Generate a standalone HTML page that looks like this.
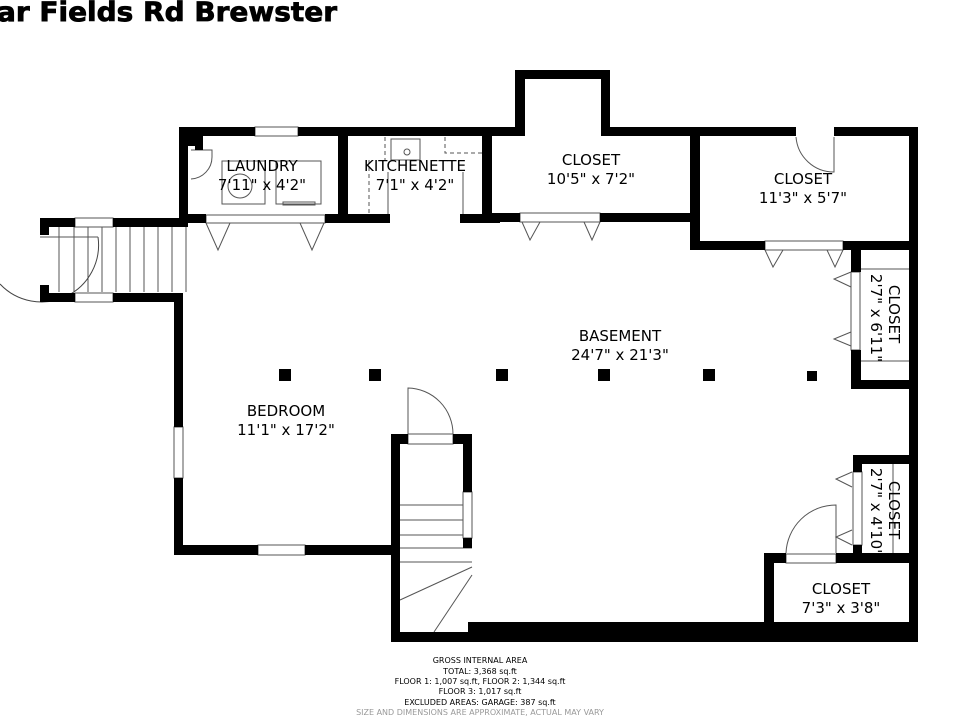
<!DOCTYPE html>
<html><head><meta charset="utf-8"><style>
html,body{margin:0;padding:0;background:#fff;width:960px;height:720px;overflow:hidden}
svg{display:block}
text{font-family:"DejaVu Sans","Liberation Sans",sans-serif;fill:#000}
</style></head><body>
<svg width="960" height="720" viewBox="0 0 960 720" xmlns="http://www.w3.org/2000/svg">
<text x="-3" y="21" font-size="27" textLength="340" lengthAdjust="spacingAndGlyphs" style="font-family:'DejaVu Sans','Liberation Sans',sans-serif;font-weight:900;stroke:#000;stroke-width:0.8">ar Fields Rd Brewster</text>

<g fill="none" stroke="#555" stroke-width="1">
<line x1="59" y1="227" x2="59" y2="292"/><line x1="74" y1="227" x2="74" y2="292"/><line x1="88" y1="227" x2="88" y2="292"/><line x1="102" y1="227" x2="102" y2="292"/><line x1="116" y1="227" x2="116" y2="292"/><line x1="130" y1="227" x2="130" y2="292"/><line x1="144" y1="227" x2="144" y2="292"/><line x1="158" y1="227" x2="158" y2="292"/><line x1="172" y1="227" x2="172" y2="292"/><line x1="186" y1="227" x2="186" y2="292"/>
<path d="M98,237 A57,57 0 0 1 0,284" stroke="#444"/><line x1="40" y1="237" x2="98" y2="237"/>
<line x1="400" y1="505" x2="463" y2="505"/><line x1="400" y1="520" x2="463" y2="520"/><line x1="400" y1="535" x2="472" y2="535"/><line x1="400" y1="548" x2="472" y2="548"/><line x1="400" y1="562" x2="472" y2="562"/>
<line x1="400" y1="600" x2="472" y2="567"/><line x1="434" y1="632" x2="472" y2="575"/>
<path d="M408,434 L408,388 A46,46 0 0 1 453,434"/>
<path d="M834,137 L834,172 A38,38 0 0 1 796,137"/>
<path d="M836,553 L836,505 A50,50 0 0 0 786,553"/>
<path d="M191,150 L212,150 L212,157 A22,22 0 0 1 191,179"/>
<path d="M206,223 L218,250 L230,223 M300,223 L312,250 L324,223"/>
<path d="M522,222 L530,240 L540,222 M584,222 L592,240 L600,222"/>
<path d="M765,250 L773,267 L783,250 M827,250 L835,267 L843,250"/>
<path d="M851,272 L834,279 L851,287 M851,332 L834,339 L851,346"/>
<path d="M852,472 L836,479 L852,487 M852,530 L836,537 L852,545"/>
<rect x="222" y="161" width="43" height="43"/><circle cx="240" cy="186" r="12"/>
<rect x="276" y="161" width="45" height="43"/><rect x="283" y="202" width="32" height="3"/>
<rect x="391" y="139" width="29" height="21"/><circle cx="407" cy="152" r="3"/>
<path d="M385,137 L385,160 M369,160 L369,214 M445,137 L445,153 L482,153" stroke-dasharray="4,3"/>
<line x1="388" y1="172" x2="388" y2="214"/><line x1="463" y1="172" x2="463" y2="214"/>
<line x1="861" y1="269" x2="909" y2="269"/><line x1="861" y1="361" x2="909" y2="361"/>
<line x1="893" y1="464" x2="893" y2="553"/>
</g>

<g fill="#fff" stroke="#555" stroke-width="1">
<rect x="255" y="127" width="43" height="9"/><rect x="75" y="218" width="38" height="9"/><rect x="75" y="293" width="38" height="9"/>
<rect x="174" y="427" width="9" height="51"/><rect x="258" y="545" width="47" height="10"/>
<rect x="206" y="215" width="119" height="8"/><rect x="520" y="213" width="80" height="9"/>
<rect x="765" y="241" width="78" height="9"/><rect x="851" y="272" width="9" height="78"/>
<rect x="853" y="472" width="9" height="73"/><rect x="786" y="554" width="50" height="9"/>
<rect x="463" y="492" width="9" height="46"/><rect x="408" y="434" width="45" height="10"/>
</g>

<g fill="#000">
<rect x="40" y="218" width="35" height="9"/><rect x="113" y="218" width="75" height="9"/>
<rect x="40" y="293" width="35" height="9"/><rect x="113" y="293" width="70" height="9"/>
<rect x="40" y="218" width="9" height="17"/><rect x="40" y="285" width="9" height="17"/>
<rect x="179" y="127" width="9" height="100"/>
<rect x="179" y="127" width="76" height="9"/><rect x="298" y="127" width="227" height="9"/>
<rect x="188" y="136" width="15" height="10"/><rect x="195" y="146" width="8" height="4"/>
<rect x="338" y="127" width="10" height="88"/><rect x="482" y="127" width="10" height="88"/>
<rect x="188" y="214" width="18" height="9"/><rect x="325" y="214" width="65" height="9"/><rect x="460" y="214" width="40" height="9"/>
<rect x="515" y="70" width="10" height="66"/><rect x="515" y="70" width="95" height="9"/><rect x="601" y="70" width="9" height="66"/>
<rect x="601" y="127" width="195" height="9"/><rect x="834" y="127" width="84" height="9"/>
<rect x="490" y="213" width="30" height="9"/><rect x="600" y="213" width="95" height="9"/>
<rect x="690" y="127" width="10" height="123"/>
<rect x="690" y="241" width="75" height="9"/><rect x="843" y="241" width="75" height="9"/>
<rect x="909" y="127" width="9" height="513"/>
<rect x="851" y="250" width="10" height="22"/><rect x="851" y="350" width="10" height="39"/><rect x="851" y="380" width="67" height="9"/>
<rect x="853" y="455" width="65" height="9"/><rect x="853" y="455" width="9" height="17"/><rect x="853" y="545" width="9" height="10"/>
<rect x="764" y="553" width="22" height="10"/><rect x="836" y="553" width="82" height="10"/>
<rect x="764" y="553" width="10" height="87"/>
<rect x="468" y="622" width="450" height="20"/>
<rect x="391" y="434" width="9" height="208"/><rect x="391" y="632" width="80" height="10"/>
<rect x="391" y="434" width="17" height="10"/><rect x="453" y="434" width="19" height="10"/>
<rect x="463" y="434" width="9" height="58"/><rect x="463" y="538" width="9" height="10"/>
<rect x="174" y="293" width="9" height="134"/><rect x="174" y="478" width="9" height="77"/>
<rect x="174" y="545" width="84" height="10"/><rect x="305" y="545" width="95" height="10"/>
<rect x="279" y="369" width="12" height="12"/><rect x="369" y="369" width="12" height="12"/><rect x="496" y="369" width="12" height="12"/>
<rect x="598" y="369" width="12" height="12"/><rect x="703" y="369" width="12" height="12"/><rect x="807" y="371" width="10" height="10"/>
</g>

<g font-size="15" text-anchor="middle">
<text x="262" y="171">LAUNDRY</text><text x="262" y="190">7'11" x 4'2"</text>
<text x="415" y="171">KITCHENETTE</text><text x="415" y="190">7'1" x 4'2"</text>
<text x="591" y="165">CLOSET</text><text x="591" y="184">10'5" x 7'2"</text>
<text x="803" y="184">CLOSET</text><text x="803" y="203">11'3" x 5'7"</text>
<text x="620" y="341">BASEMENT</text><text x="620" y="360">24'7" x 21'3"</text>
<text x="286" y="416">BEDROOM</text><text x="286" y="435">11'1" x 17'2"</text>
<text x="841" y="594">CLOSET</text><text x="841" y="613">7'3" x 3'8"</text>
<text transform="translate(889,314) rotate(90)">CLOSET</text>
<text transform="translate(871,318) rotate(90)">2'7" x 6'11"</text>
<text transform="translate(889,510) rotate(90)">CLOSET</text>
<text transform="translate(871,512) rotate(90)">2'7" x 4'10"</text>
</g>

<g font-size="8" text-anchor="middle" style="font-family:'Liberation Sans',sans-serif">
<text x="480" y="663">GROSS INTERNAL AREA</text>
<text x="480" y="674">TOTAL: 3,368 sq.ft</text>
<text x="480" y="684">FLOOR 1: 1,007 sq.ft, FLOOR 2: 1,344 sq.ft</text>
<text x="480" y="694">FLOOR 3: 1,017 sq.ft</text>
<text x="480" y="705">EXCLUDED AREAS: GARAGE: 387 sq.ft</text>
<text x="480" y="715" style="fill:#999">SIZE AND DIMENSIONS ARE APPROXIMATE, ACTUAL MAY VARY</text>
</g>
</svg>
</body></html>
